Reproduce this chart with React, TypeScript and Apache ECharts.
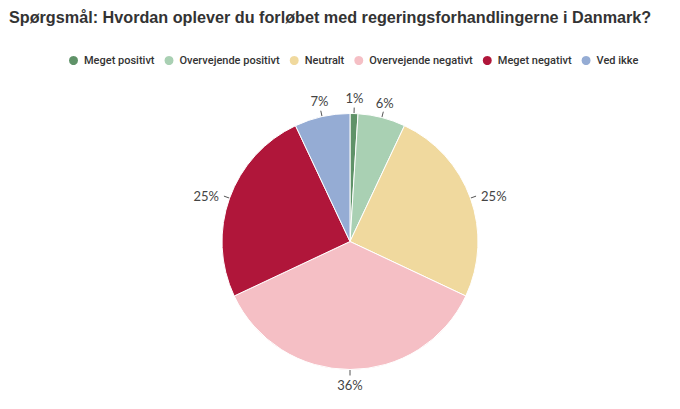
import React, { useEffect, useRef } from "react";
import * as echarts from "echarts";

const categories = [
  "Meget positivt",
  "Overvejende positivt",
  "Neutralt",
  "Overvejende negativt",
  "Meget negativt",
  "Ved ikke",
];
const values = [1, 6, 25, 36, 25, 7];
const colors = ["#5f9268", "#a9d0b3", "#f0d99e", "#f5bfc5", "#b0163a", "#95acd4"];
const titleText = "Spørgsmål: Hvordan oplever du forløbet med regeringsforhandlingerne i Danmark?";

const CX = 350;
const CY = 241.5;

export default function App() {
  const ref = useRef<HTMLDivElement>(null);
  useEffect(() => {
    if (!ref.current) return;
    const chart = echarts.init(ref.current, null, { renderer: "svg" });
    chart.setOption({
      animation: false,
      backgroundColor: "#ffffff",
      title: {
        text: titleText,
        left: 9,
        top: 9,
        padding: 0,
        textStyle: {
          fontFamily: "Liberation Sans",
          fontSize: 16.2,
          fontWeight: "bold",
          color: "#333333",
        },
      },
      legend: {
        top: 49,
        left: 62,
        icon: "circle",
        itemWidth: 11,
        itemHeight: 11,
        itemGap: 8,
        textStyle: {
          fontFamily: "Roboto",
          fontSize: 11,
          fontWeight: 500,
          color: "#333333",
        },
        data: categories,
      },
      series: [
        {
          type: "pie",
          center: [CX, CY],
          radius: 128,
          startAngle: 90,
          clockwise: true,
          avoidLabelOverlap: false,
          itemStyle: { borderColor: "#ffffff", borderWidth: 1 },
          label: {
            show: true,
            position: "outside",
            formatter: "{c}%",
            fontFamily: "Lato",
            fontSize: 13,
            color: "#444444",
          },
          labelLine: {
            show: true,
            length: 6,
            length2: 0,
            lineStyle: { color: "#555555", width: 1 },
          },
          labelLayout: (p: any) => {
            const pts = p.labelLinePoints;
            if (!pts) return {};
            const a = pts[0];
            const dx = a[0] - CX;
            const dy = a[1] - CY;
            const len = Math.hypot(dx, dy) || 1;
            const ux = dx / len;
            const uy = dy / len;
            const b = [a[0] + ux * 6, a[1] + uy * 6];
            const line = [a, b, b];
            const hh = p.labelRect.height / 2;
            if (Math.abs(ux) > 0.75) {
              return {
                x: b[0] + (ux > 0 ? 5 : -5),
                y: b[1],
                align: ux > 0 ? "left" : "right",
                verticalAlign: "middle",
                labelLinePoints: line,
              };
            }
            return {
              x: b[0] + ux * 6,
              y: b[1] + uy * (hh + 3),
              align: "center",
              verticalAlign: "middle",
              labelLinePoints: line,
            };
          },
          emphasis: { disabled: true },
          data: categories.map((name, i) => ({
            name,
            value: values[i],
            itemStyle: { color: colors[i] },
          })),
        },
      ],
    });
    return () => chart.dispose();
  }, []);
  return (
    <div
      ref={ref}
      style={{ position: "absolute", left: 0, top: 0, width: 680, height: 409 }}
    />
  );
}
